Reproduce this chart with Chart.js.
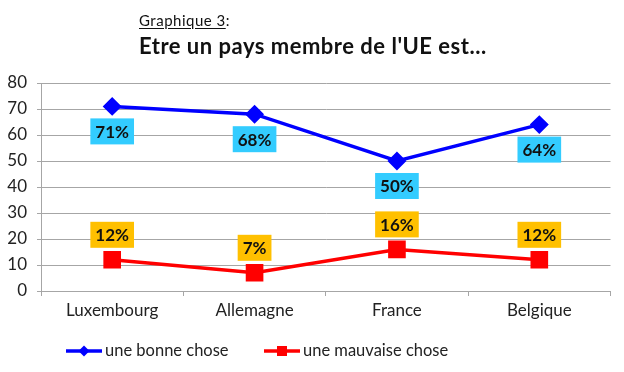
<!DOCTYPE html>
<html>
<head>
<meta charset="utf-8">
<script src="https://cdn.jsdelivr.net/npm/chart.js@4.4.0/dist/chart.umd.min.js"></script>
<style>
  body { margin: 0; background: #fff; }
  #wrap { position: relative; width: 624px; height: 372px; font-family: Lato, sans-serif; color: #111; }
  #sub { position: absolute; left: 139px; top: 11px; font-size: 15px; line-height: 18px; letter-spacing: 0.5px; }
  #sub u { text-underline-offset: 2px; }
  #title { position: absolute; left: 139px; top: 33px; font-size: 22px; font-weight: bold; line-height: 25px; letter-spacing: 0.5px; }
  canvas { position: absolute; left: 0; top: 0; }
</style>
</head>
<body>
<div id="wrap">
  <canvas id="chart" width="624" height="372"></canvas>
  <div id="sub"><u>Graphique 3</u>:</div>
  <div id="title">Etre un pays membre de l'UE est...</div>
</div>
<script>
const countries = ['Luxembourg', 'Allemagne', 'France', 'Belgique'];
const bonneChose = [71, 68, 50, 64];
const mauvaiseChose = [12, 7, 16, 12];
const seriesNames = ['une bonne chose', 'une mauvaise chose'];

const blue = '#0000ff';
const red = '#ff0000';
const boxColors = ['#33ccff', '#ffc000'];
const gridColor = '#a6a6a6';

// percentage boxes: below the blue points, above the red ones
const valueBoxes = {
  id: 'valueBoxes',
  afterDatasetsDraw(chart) {
    const ctx = chart.ctx;
    ctx.save();
    ctx.font = 'bold 17px Lato';
    ctx.textAlign = 'center';
    ctx.textBaseline = 'middle';
    chart.data.datasets.forEach((ds, i) => {
      const meta = chart.getDatasetMeta(i);
      meta.data.forEach((pt, j) => {
        const txt = ds.data[j] + '%';
        const w = ctx.measureText(txt).width + 10;
        const h = 26;
        const cy = i === 0 ? pt.y + 25 : pt.y - 25;
        ctx.fillStyle = boxColors[i];
        ctx.fillRect(pt.x - w / 2, cy - h / 2, w, h);
        ctx.fillStyle = '#111';
        ctx.fillText(txt, pt.x, cy + 1);
      });
    });
    ctx.restore();
  }
};

// legend with line + marker, like the spreadsheet one
const lineLegend = {
  id: 'lineLegend',
  afterDraw(chart) {
    const ctx = chart.ctx;
    const y = 351;
    const items = [
      { x: 66, color: blue, marker: 'diamond', text: seriesNames[0] },
      { x: 264, color: red, marker: 'square', text: seriesNames[1] }
    ];
    ctx.save();
    ctx.font = '16.5px Lato';
    ctx.textBaseline = 'middle';
    items.forEach(it => {
      ctx.strokeStyle = it.color;
      ctx.lineWidth = 3.5;
      ctx.beginPath();
      ctx.moveTo(it.x, y);
      ctx.lineTo(it.x + 36, y);
      ctx.stroke();
      ctx.fillStyle = it.color;
      const cx = it.x + 18;
      if (it.marker === 'diamond') {
        ctx.beginPath();
        ctx.moveTo(cx, y - 5.5);
        ctx.lineTo(cx + 5.5, y);
        ctx.lineTo(cx, y + 5.5);
        ctx.lineTo(cx - 5.5, y);
        ctx.closePath();
        ctx.fill();
      } else {
        ctx.fillRect(cx - 5, y - 5, 10, 10);
      }
      ctx.fillStyle = '#222';
      ctx.fillText(it.text, it.x + 39, y);
    });
    ctx.restore();
  }
};

new Chart(document.getElementById('chart'), {
  type: 'line',
  data: {
    labels: countries,
    datasets: [
      {
        label: seriesNames[0],
        data: bonneChose,
        borderColor: blue,
        backgroundColor: blue,
        borderWidth: 3.5,
        pointStyle: 'rectRot',
        pointRadius: 7,
        pointHoverRadius: 7,
        tension: 0
      },
      {
        label: seriesNames[1],
        data: mauvaiseChose,
        borderColor: red,
        backgroundColor: red,
        borderWidth: 3.5,
        pointStyle: 'rect',
        pointRadius: 10,
        pointHoverRadius: 10,
        tension: 0
      }
    ]
  },
  options: {
    responsive: false,
    animation: false,
    events: [],
    layout: { padding: { top: 83, right: 12, bottom: 50, left: 0 } },
    plugins: { legend: { display: false }, tooltip: { enabled: false } },
    scales: {
      x: {
        offset: true,
        afterFit: (s) => { s.height = 31; },
        grid: { offset: true, drawOnChartArea: false, drawTicks: true, tickLength: 5, color: gridColor },
        border: { color: gridColor },
        ticks: { font: { family: 'Lato', size: 17 }, color: '#222', padding: 4 }
      },
      y: {
        min: 0,
        max: 80,
        afterFit: (s) => { s.width = 41; },
        grid: { color: gridColor, tickLength: 4 },
        border: { color: gridColor },
        ticks: { stepSize: 10, font: { family: 'Lato', size: 17 }, color: '#222', padding: 10 }
      }
    }
  },
  plugins: [valueBoxes, lineLegend]
});
</script>
</body>
</html>
